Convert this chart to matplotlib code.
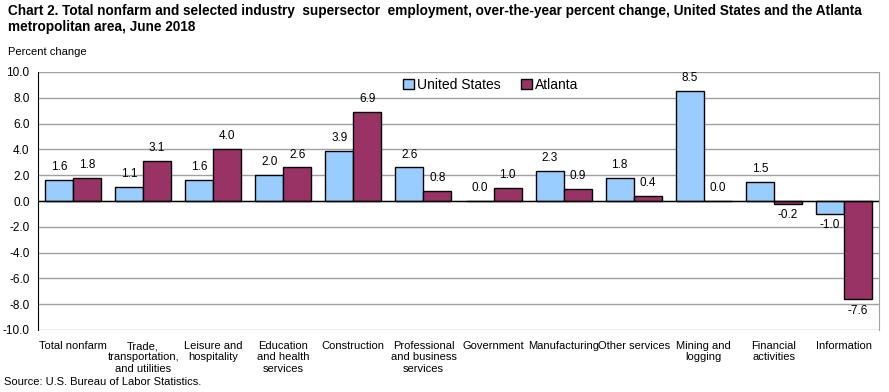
import matplotlib
matplotlib.use("Agg")
import matplotlib.pyplot as plt
import numpy as np

categories = ["Total nonfarm", "Trade,\ntransportation,\nand utilities", "Leisure and\nhospitality",
              "Education\nand health\nservices", "Construction", "Professional\nand business\nservices",
              "Government", "Manufacturing", "Other services", "Mining and\nlogging",
              "Financial\nactivities", "Information"]
us = [1.6, 1.1, 1.6, 2.0, 3.9, 2.6, 0.0, 2.3, 1.8, 8.5, 1.5, -1.0]
atl = [1.8, 3.1, 4.0, 2.6, 6.9, 0.8, 1.0, 0.9, 0.4, 0.0, -0.2, -7.6]
yticks = np.arange(-10, 10.1, 2)

plt.rcParams['font.family'] = ['Liberation Sans', 'DejaVu Sans']

fig = plt.figure(figsize=(8.89, 3.92), dpi=100)
ax = fig.add_axes([38/889, 1-330/392, 841/889, 258/392])

x = np.arange(len(categories))
w = 0.4
b1 = ax.bar(x - w/2, us, w, color='#99ccff', edgecolor='black', linewidth=1, label='United States', zorder=3)
b2 = ax.bar(x + w/2, atl, w, color='#993366', edgecolor='black', linewidth=1, label='Atlanta', zorder=3)

for bars, vals in ((b1, us), (b2, atl)):
    for rect, v in zip(bars, vals):
        cx = rect.get_x() + rect.get_width()/2
        if v >= 0:
            ax.annotate(f"{v:.1f}", (cx, v), xytext=(0, 5), textcoords='offset points',
                        ha='center', va='bottom', fontsize=8.5, color='black')
        else:
            ax.annotate(f"{v:.1f}", (cx, v), xytext=(0, -4), textcoords='offset points',
                        ha='center', va='top', fontsize=8.5, color='black')

ax.set_xlim(-0.5, len(categories) - 0.5)
ax.set_ylim(-10, 10)
ax.set_yticks(yticks)
ax.set_yticklabels([f"{t:.1f}" for t in yticks], fontsize=8.5)
ax.set_xticks(x)
ax.set_xticklabels(categories, fontsize=8, va='top', linespacing=1.15)
ax.tick_params(axis='both', length=0, pad=6)
ax.tick_params(axis='x', pad=8)
ax.grid(axis='y', color='#a0a0a0', linewidth=1, zorder=0)
ax.axhline(0, color='black', linewidth=1, zorder=4)
ax.spines['top'].set_visible(False)
ax.spines['bottom'].set_visible(False)
ax.spines['right'].set_color('#a0a0a0')
ax.spines['left'].set_color('black')

leg = ax.legend(loc='center', bbox_to_anchor=(0.538, 0.95), ncol=2, frameon=False,
                fontsize=10, handlelength=0.8, handleheight=0.8, handletextpad=0.2, columnspacing=1.5)

fig.text(8/889, 1-4/392, "Chart 2. Total nonfarm and selected industry  supersector  employment, over-the-year percent change, United States and the Atlanta\nmetropolitan area, June 2018",
         fontsize=9.8, fontweight='bold', va='top', ha='left', linespacing=1.2)
fig.text(8/889, 1-52/392, "Percent change", fontsize=8, va='center', ha='left')
fig.text(4/889, 1-382/392, "Source: U.S. Bureau of Labor Statistics.", fontsize=8, va='center', ha='left')

fig.savefig("out.png", dpi=100)
